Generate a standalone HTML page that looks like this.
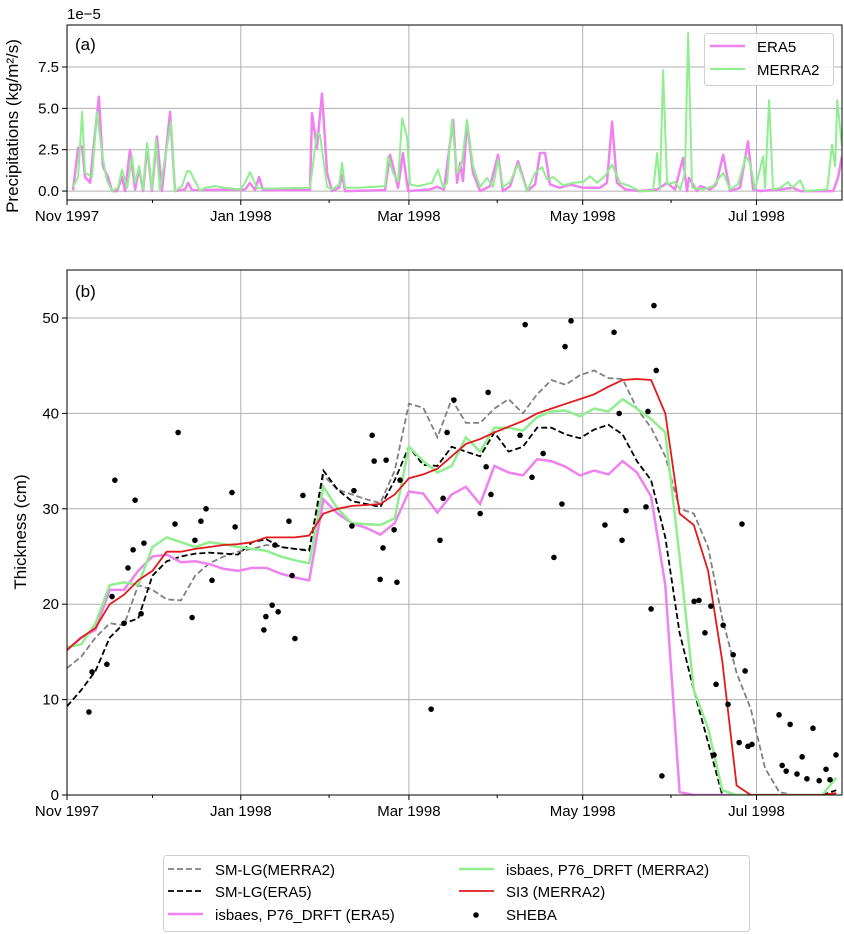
<!DOCTYPE html>
<html><head><meta charset="utf-8">
<style>
html,body{margin:0;padding:0;background:#fff;}
svg{display:block;font-family:"Liberation Sans","DejaVu Sans",sans-serif;}
</style></head>
<body>
<svg id="chart" width="844" height="934" viewBox="0 0 844 934" xmlns="http://www.w3.org/2000/svg">
<g id="panelA"></g>
<g id="panelB"></g>
<g id="legendB"></g>
</svg>
<script>
// ---------- Data ----------
const monthTickDays = [0, 61, 120, 181, 242];
const monthTickLabels = ["Nov 1997", "Jan 1998", "Mar 1998", "May 1998", "Jul 1998"];
const minorTickDays = [30, 92, 151, 212, 273];
const precipTicks = [0, 2.5, 5, 7.5];
const precipTickLabels = ["0.0", "2.5", "5.0", "7.5"];
const thickTicks = [0, 10, 20, 30, 40, 50];

const era5Days = [2.1,3.9,5.3,6.3,8.1,9.1,11.2,12.6,14.4,15.8,17.6,19.3,20.4,22.1,23.9,25.3,26.7,28.1,29.8,31.6,33.3,36.2,37.9,41.4,42.5,43.9,62.5,64.2,66,67.4,68.8,85.3,86,87.7,89.5,91.3,93,95.5,96.5,97.6,111.6,113.4,114.4,116.2,117.9,119.7,127.4,129.9,132.3,135.5,136.9,138,139,140.4,142.5,145,148.5,151.3,153,155.5,158.3,161.5,164.3,166,167.8,169.5,173,176.6,181.1,187.1,189.5,191.3,193,195.9,201.1,207.1,210.6,213.4,216.2,217.6,218.3,221.1,222.2,225.7,227.8,230.3,232.7,236.2,239,240.8,243.2,250.3,254.8,257.3,268.9,270.6,272];
const era5Precip = [0.05,2.6,2.7,0.85,0.5,2.3,5.7,1.5,0.85,0,0,0.85,0,2.5,0.1,1.4,0,2.7,0,3.3,0,4.8,0,0.1,0.5,0.05,0.1,0.5,0.05,0.85,0.05,0.05,4.7,2.6,5.9,1.1,0,0.2,1.0,0,0.05,2.2,1.5,0.2,2.3,0,0.1,0.25,0.1,4.3,0.5,1.7,0.6,4.2,1.1,0,0.3,2.2,0,0.3,1.8,0,0.4,2.3,2.3,0.4,0.2,0.4,0.2,0.2,0.5,4.2,0.5,0.1,0,0.1,0.5,0.1,2.0,0,0.8,0,0.3,0.1,0.4,2.2,0,0.2,3.0,0.1,0,0.1,0.2,0,0,0.8,2.1];
const merraDays = [2.1,3.9,5.3,6.3,7.4,8.8,10.5,12.3,14,15.8,17.9,19.3,21.1,22.8,23.9,25.3,26.7,28.1,29.8,31.2,32.6,36.5,37.9,40.4,42.1,43.2,44.2,46.7,48.4,51.9,55.5,60.7,62.5,64.2,66.7,69.5,85.3,87.7,88.8,91.3,93,95.5,96.5,97.6,102.8,111.6,112.7,114.4,116.2,117.6,119.3,120.4,123.2,125.7,128.1,130.2,132,133.4,135.1,136.9,138.6,140.4,142.5,145,147.4,149.5,151.3,153,155.5,158.3,161.5,164.3,166.7,168.5,170.6,174.1,177.6,181.1,183.6,186,188.8,191.3,194.1,197.6,201.1,205.7,207.1,208.1,209.2,210.6,213.4,215.2,216.9,218,219.4,223.2,226.7,230.3,232.7,235.5,238.3,239.7,241.5,244.3,245,246.4,247.8,250.3,253.1,254.5,257.3,259,266.8,268.5,269.6,270.3,272];
const merraPrecip = [0.25,0.85,4.8,1.1,1.0,0.85,4.8,2.3,0.65,0,0.2,1.3,0.2,2.1,0.5,1.5,0.1,2.9,0.1,3.1,0.1,4.2,0,0.3,1.2,1.2,0.85,0,0.2,0.3,0.2,0.1,0.5,1.15,0.2,0.15,0.2,3.5,3.4,0.25,0.1,0.4,1.7,0.2,0.2,0.3,2.1,1.1,0.6,4.4,3.3,0.4,0.3,0.4,0.5,1.3,0.2,0.5,4.3,1.1,1.7,4.3,1.5,0.25,0.8,0.25,1.9,0.25,0.55,1.6,0,1.1,1.45,0.7,0.85,0.35,0.5,0.55,0.9,0.5,0.9,1.6,0.5,0.3,0,0,2.3,0.1,7.3,0.4,0.55,0.1,1.1,9.55,0.2,0.1,0.3,1.1,0.1,0.4,2.1,1.7,0.1,2.1,0.2,5.5,0.1,0.2,0.55,0.2,0.65,0,0.1,2.8,1.5,5.5,2.7];

// thickness series, sampled every 5 days from Nov 1 1997
const seriesDays = [0,5,10,15,20,25,30,35,40,45,50,55,60,65,70,75,80,85,90,95,100,105,110,115,120,125,130,135,140,145,150,155,160,165,170,175,180,185,190,195,200,205,210,215,220,225,230,235,240,245,250,255,260,265,270];
const smlgMerra = [13.3,14.5,16.5,18,17.8,22,21.5,20.5,20.4,23,24.3,25,25.5,25.8,26.2,26,25.8,25.7,33.5,32,31.5,31,30.6,34,41,40.6,37.5,41.5,39,39,40.5,41.5,40,42,43.5,43,44,44.5,43.7,43.6,40.5,38.5,35.5,30,29.5,26,18.5,12.8,9,2.8,0.3,0,0,0,0];
const smlgEra5 = [9.3,11,13,16.5,18,18.5,23,24.5,25,25.3,25.4,25.3,25.2,26.5,26.8,26,25.8,25.6,34,32,30.8,30.5,30.2,33,36.5,34.6,34.5,36.5,36,35.5,38,36,36.5,38.5,38.5,37.8,37.4,38.3,38.8,37.8,35,33,27,17,11,5.5,0,0,0,0,0,0,0,0,0.5];
const isbaesEra5 = [15.2,16.5,17.3,21.5,21.5,23.5,25,25.2,24.4,24.5,24.2,23.7,23.5,23.8,23.8,23.2,22.8,22.5,31,29.5,28.5,28,27.3,28.5,31.8,31.6,29.6,31.5,32.3,30.5,34.5,33.8,33.5,35.2,35,34.4,33.5,34,33.6,35,33.8,31.3,22,0.3,0,0,0,0,0,0,0,0,0,0,0];
const isbaesMerra = [15.5,15.8,18,22,22.3,22,26,27,26.5,26,26.5,26.3,26,25.8,25.6,25,24.6,24.3,32.3,30,28.5,28.4,28.3,29,36.5,35,33.8,34.5,37.5,36,38.5,38.5,38.2,39.6,40.2,40.3,39.7,40.5,40.2,41.5,40.5,39.4,38,25,11,7,0.5,0,0,0,0,0,0,0,1.8];
const si3Merra = [15.2,16.5,17.5,20,21,22.5,23.5,25.5,25.5,25.8,26,26.2,26.3,26.5,27,27,27,27.2,29.5,30,30.3,30.4,30.5,31.5,33.2,33.6,34.2,35.5,36.8,37.3,38,38.6,39.2,40,40.5,41,41.5,42,42.8,43.5,43.6,43.5,40,29.5,28.3,23.5,14,1,0,0,0,0,0,0,0.2];

const shebaDays = [8.8,7.7,14.0,15.8,16.8,20.0,21.4,23.2,23.9,26.0,27.0,37.9,39.0,43.9,44.9,47.0,48.8,50.9,57.9,59.0,69.1,69.8,72.0,73.0,74.1,77.9,79.0,80.0,82.8,100.0,100.7,107.1,107.8,109.9,110.9,112.0,114.8,115.8,116.9,127.8,130.9,132.0,133.4,135.8,145.0,147.1,147.8,148.8,159.0,160.8,163.2,167.1,170.9,173.7,174.8,176.9,188.8,192.0,193.8,194.8,196.2,203.2,203.9,205.0,206.0,206.8,208.8,220.1,221.8,223.9,226.0,227.1,227.8,230.3,232.0,233.8,235.9,236.9,238.0,239.0,240.4,249.9,251.0,252.4,253.8,256.2,258.0,259.7,261.8,264.0,266.4,267.8,269.9];
const shebaThick = [12.9,8.7,13.7,20.8,33,18,23.8,25.7,30.9,19,26.4,28.4,38,18.6,26.7,28.7,30,22.5,31.7,28.1,17.3,18.7,19.9,26.2,19.2,28.7,23,16.4,31.4,28.2,31.9,37.7,35,22.6,25.9,35.1,27.8,22.3,33,9,26.7,31.1,38,41.4,29.5,34.4,42.2,31.5,37.7,49.3,33.3,35.8,24.9,30.5,47,49.7,28.3,48.5,40,26.7,29.8,30.2,40.2,19.5,51.3,44.5,2,20.3,20.4,17,19.8,4.2,11.6,17.8,9.5,14.7,5.5,28.4,13,5.1,5.3,8.4,3.1,2.5,7.4,2.2,4,1.7,7,1.5,2.7,1.6,4.2];

// ---------- Helpers ----------
const NS = "http://www.w3.org/2000/svg";
const L = 67, R = 842, DAYMAX = 272;
function xScale(d){ return L + d*(R-L)/DAYMAX; }
const A = {top:25, bottom:200, min:-0.54, max:10.04};
const B = {top:270, bottom:795, min:0, max:55.03};
function yA(v){ return A.bottom - (v-A.min)/(A.max-A.min)*(A.bottom-A.top); }
function yB(v){ return B.bottom - (v-B.min)/(B.max-B.min)*(B.bottom-B.top); }
function mk(tag, attrs, parent){
  const e = document.createElementNS(NS, tag);
  for (const k in attrs) e.setAttribute(k, attrs[k]);
  if (parent) parent.appendChild(e);
  return e;
}
function txt(parent, x, y, s, size, anchor){
  const t = mk("text", {x:x, y:y, "font-size":size, "text-anchor":anchor||"start", fill:"#000"}, parent);
  t.textContent = s;
  return t;
}
function pathFrom(days, vals, ys){
  return days.map((d,i)=>(i?"L":"M")+xScale(d).toFixed(1)+","+ys(vals[i]).toFixed(1)).join("");
}

function drawAxes(g, P, ys, yTicks, yLabels, name){
  const grid = mk("g", {}, g);
  
  
  monthTickDays.forEach(d=>{
    mk("line",{x1:xScale(d),x2:xScale(d),y1:P.top,y2:P.bottom,stroke:"#b0b0b0","stroke-width":1},grid);
  });
  yTicks.forEach(v=>{
    mk("line",{x1:L,x2:R,y1:ys(v),y2:ys(v),stroke:"#b0b0b0","stroke-width":1},grid);
  });
  const xt = mk("g", {}, g);
  
  
  monthTickDays.forEach((d,i)=>{
    mk("line",{x1:xScale(d),x2:xScale(d),y1:P.bottom,y2:P.bottom+5,stroke:"#000","stroke-width":1},xt);
    const t = txt(xt, xScale(d), P.bottom+21, monthTickLabels[i], 15, "middle");
    
    
  });
  minorTickDays.forEach(d=>{
    if (xScale(d) <= R) mk("line",{x1:xScale(d),x2:xScale(d),y1:P.bottom,y2:P.bottom+3,stroke:"#000","stroke-width":1},xt);
  });
  const yt = mk("g", {}, g);
  
  
  yTicks.forEach((v,i)=>{
    mk("line",{x1:L-5,x2:L,y1:ys(v),y2:ys(v),stroke:"#000","stroke-width":1},yt);
    const t = txt(yt, L-8, ys(v)+5, yLabels[i], 15, "end");
    
    
  });
}

// ---------- Panel A ----------
const gA = document.getElementById("panelA");
drawAxes(gA, A, yA, precipTicks, precipTickLabels, "precip");
const clipA = mk("clipPath",{id:"clipA"},gA);
mk("rect",{x:L,y:A.top,width:R-L,height:A.bottom-A.top},clipA);
const era5Line = mk("path",{d:pathFrom(era5Days, era5Precip, yA),fill:"none",stroke:"violet","stroke-width":2.5,"stroke-linejoin":"round","clip-path":"url(#clipA)"},gA);


const merraLine = mk("path",{d:pathFrom(merraDays, merraPrecip, yA),fill:"none",stroke:"lightgreen","stroke-width":2,"stroke-linejoin":"round","clip-path":"url(#clipA)"},gA);


const frameA = mk("rect",{x:L,y:A.top,width:R-L,height:A.bottom-A.top,fill:"none",stroke:"#000","stroke-width":1},gA);


const labA = txt(gA, 75, 50, "(a)", 17);


const offA = txt(gA, 67, 19, "1e\u22125", 15);


const ylabA = txt(gA, 0, 0, "Precipitations (kg/m\u00b2/s)", 17, "middle");
ylabA.setAttribute("transform","translate(18,126) rotate(-90)");


// legend A
const legA = mk("g",{},gA);


mk("rect",{x:704.5,y:33.5,width:129,height:52,rx:3,fill:"#fff","fill-opacity":0.8,stroke:"#d0d0d0"},legA);
const leA1 = mk("line",{x1:710,x2:745,y1:46,y2:46,stroke:"violet","stroke-width":2.5},legA);


txt(legA, 757, 52, "ERA5", 15);
const leA2 = mk("line",{x1:710,x2:745,y1:69,y2:69,stroke:"lightgreen","stroke-width":2},legA);


txt(legA, 757, 75, "MERRA2", 15);

// ---------- Panel B ----------
const gB = document.getElementById("panelB");
drawAxes(gB, B, yB, thickTicks, thickTicks.map(String), "thickness");
const clipB = mk("clipPath",{id:"clipB"},gB);
mk("rect",{x:L,y:B.top,width:R-L,height:B.bottom-B.top},clipB);
const s1 = mk("path",{d:pathFrom(seriesDays, smlgMerra, yB),fill:"none",stroke:"#808080","stroke-width":1.8,"stroke-dasharray":"6,3","clip-path":"url(#clipB)"},gB);


const s2 = mk("path",{d:pathFrom(seriesDays, smlgEra5, yB),fill:"none",stroke:"#000","stroke-width":1.8,"stroke-dasharray":"6,3","clip-path":"url(#clipB)"},gB);


const s3 = mk("path",{d:pathFrom(seriesDays, isbaesEra5, yB),fill:"none",stroke:"violet","stroke-width":2.5,"clip-path":"url(#clipB)"},gB);


const s4 = mk("path",{d:pathFrom(seriesDays, isbaesMerra, yB),fill:"none",stroke:"lightgreen","stroke-width":2.5,"clip-path":"url(#clipB)"},gB);


const s5 = mk("path",{d:pathFrom(seriesDays, si3Merra, yB),fill:"none",stroke:"#e31a1c","stroke-width":1.8,"clip-path":"url(#clipB)"},gB);


shebaDays.forEach((d,i)=>{
  const c = mk("circle",{cx:xScale(d),cy:yB(shebaThick[i]),r:2.8,fill:"#000"},gB);
  
  
});
const frameB = mk("rect",{x:L,y:B.top,width:R-L,height:B.bottom-B.top,fill:"none",stroke:"#000","stroke-width":1},gB);


const labB = txt(gB, 75, 297, "(b)", 17);


const ylabB = txt(gB, 0, 0, "Thickness (cm)", 17, "middle");
ylabB.setAttribute("transform","translate(26,532) rotate(-90)");



// ---------- Legend B ----------
const lg = document.getElementById("legendB");
mk("rect",{x:163.5,y:855.5,width:586,height:76,rx:3,fill:"#fff",stroke:"#d0d0d0"},lg);
const legItems = [
  {x:168, y:869, label:"SM-LG(MERRA2)", stroke:"#808080", w:1.8, dash:"6,3", name:"legend-entry-smlg-merra2"},
  {x:168, y:891, label:"SM-LG(ERA5)", stroke:"#000", w:1.8, dash:"6,3", name:"legend-entry-smlg-era5"},
  {x:168, y:914, label:"isbaes, P76_DRFT (ERA5)", stroke:"violet", w:2.5, dash:null, name:"legend-entry-isbaes-era5"},
  {x:459, y:869, label:"isbaes, P76_DRFT (MERRA2)", stroke:"lightgreen", w:2.5, dash:null, name:"legend-entry-isbaes-merra2"},
  {x:459, y:891, label:"SI3 (MERRA2)", stroke:"#e31a1c", w:1.8, dash:null, name:"legend-entry-si3-merra2"},
  {x:459, y:914, label:"SHEBA", stroke:null, name:"legend-entry-sheba"}
];
legItems.forEach(it=>{
  const g = mk("g",{},lg);
  
  
  if (it.stroke){
    const a = {x1:it.x,x2:it.x+35,y1:it.y,y2:it.y,stroke:it.stroke,"stroke-width":it.w};
    if (it.dash) a["stroke-dasharray"] = it.dash;
    mk("line",a,g);
  } else {
    mk("circle",{cx:it.x+17,cy:it.y+1,r:2.8,fill:"#000"},g);
  }
  txt(g, it.x+47, it.y+6, it.label, 15);
});
</script>
</body></html>
